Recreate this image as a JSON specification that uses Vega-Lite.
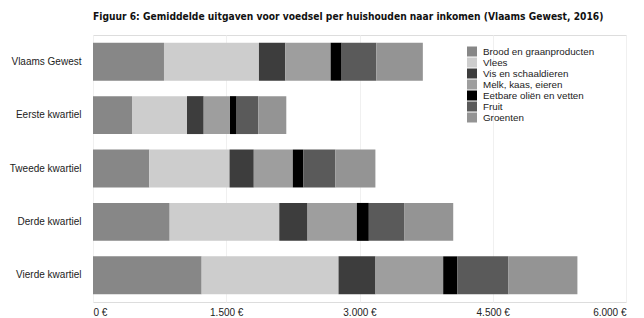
{
  "$schema": "https://vega.github.io/schema/vega-lite/v6.json",
  "width": 533,
  "height": 267,
  "autosize": {"type": "none"},
  "padding": {"left": 93, "top": 35, "right": 18, "bottom": 16},
  "background": "white",
  "title": {
    "text": "Figuur 6: Gemiddelde uitgaven voor voedsel per huishouden naar inkomen (Vlaams Gewest, 2016)",
    "font": "'DejaVu Sans Condensed', 'Liberation Sans'",
    "fontSize": 10.2,
    "fontWeight": "bold",
    "color": "#111111",
    "anchor": "start",
    "frame": "group",
    "dx": 0,
    "offset": 13
  },
  "data": {
    "values": [
      {"groep": "Vlaams Gewest", "categorie": "Brood en graanproducten", "k": 1, "waarde": 799},
      {"groep": "Vlaams Gewest", "categorie": "Vlees", "k": 2, "waarde": 1069},
      {"groep": "Vlaams Gewest", "categorie": "Vis en schaaldieren", "k": 3, "waarde": 297},
      {"groep": "Vlaams Gewest", "categorie": "Melk, kaas, eieren", "k": 4, "waarde": 510},
      {"groep": "Vlaams Gewest", "categorie": "Eetbare oliën en vetten", "k": 5, "waarde": 124},
      {"groep": "Vlaams Gewest", "categorie": "Fruit", "k": 6, "waarde": 390},
      {"groep": "Vlaams Gewest", "categorie": "Groenten", "k": 7, "waarde": 524},
      {"groep": "Eerste kwartiel", "categorie": "Brood en graanproducten", "k": 1, "waarde": 439},
      {"groep": "Eerste kwartiel", "categorie": "Vlees", "k": 2, "waarde": 619},
      {"groep": "Eerste kwartiel", "categorie": "Vis en schaaldieren", "k": 3, "waarde": 188},
      {"groep": "Eerste kwartiel", "categorie": "Melk, kaas, eieren", "k": 4, "waarde": 296},
      {"groep": "Eerste kwartiel", "categorie": "Eetbare oliën en vetten", "k": 5, "waarde": 75},
      {"groep": "Eerste kwartiel", "categorie": "Fruit", "k": 6, "waarde": 244},
      {"groep": "Eerste kwartiel", "categorie": "Groenten", "k": 7, "waarde": 315},
      {"groep": "Tweede kwartiel", "categorie": "Brood en graanproducten", "k": 1, "waarde": 634},
      {"groep": "Tweede kwartiel", "categorie": "Vlees", "k": 2, "waarde": 903},
      {"groep": "Tweede kwartiel", "categorie": "Vis en schaaldieren", "k": 3, "waarde": 273},
      {"groep": "Tweede kwartiel", "categorie": "Melk, kaas, eieren", "k": 4, "waarde": 439},
      {"groep": "Tweede kwartiel", "categorie": "Eetbare oliën en vetten", "k": 5, "waarde": 120},
      {"groep": "Tweede kwartiel", "categorie": "Fruit", "k": 6, "waarde": 360},
      {"groep": "Tweede kwartiel", "categorie": "Groenten", "k": 7, "waarde": 450},
      {"groep": "Derde kwartiel", "categorie": "Brood en graanproducten", "k": 1, "waarde": 863},
      {"groep": "Derde kwartiel", "categorie": "Vlees", "k": 2, "waarde": 1234},
      {"groep": "Derde kwartiel", "categorie": "Vis en schaaldieren", "k": 3, "waarde": 318},
      {"groep": "Derde kwartiel", "categorie": "Melk, kaas, eieren", "k": 4, "waarde": 555},
      {"groep": "Derde kwartiel", "categorie": "Eetbare oliën en vetten", "k": 5, "waarde": 135},
      {"groep": "Derde kwartiel", "categorie": "Fruit", "k": 6, "waarde": 402},
      {"groep": "Derde kwartiel", "categorie": "Groenten", "k": 7, "waarde": 548},
      {"groep": "Vierde kwartiel", "categorie": "Brood en graanproducten", "k": 1, "waarde": 1223},
      {"groep": "Vierde kwartiel", "categorie": "Vlees", "k": 2, "waarde": 1541},
      {"groep": "Vierde kwartiel", "categorie": "Vis en schaaldieren", "k": 3, "waarde": 416},
      {"groep": "Vierde kwartiel", "categorie": "Melk, kaas, eieren", "k": 4, "waarde": 762},
      {"groep": "Vierde kwartiel", "categorie": "Eetbare oliën en vetten", "k": 5, "waarde": 158},
      {"groep": "Vierde kwartiel", "categorie": "Fruit", "k": 6, "waarde": 577},
      {"groep": "Vierde kwartiel", "categorie": "Groenten", "k": 7, "waarde": 776}
    ]
  },
  "mark": {"type": "bar"},
  "encoding": {
    "y": {
      "field": "groep",
      "type": "nominal",
      "sort": ["Vlaams Gewest", "Eerste kwartiel", "Tweede kwartiel", "Derde kwartiel", "Vierde kwartiel"],
      "scale": {"paddingInner": 0.29, "paddingOuter": 0.145},
      "axis": {
        "title": null,
        "domain": false,
        "ticks": false,
        "grid": false,
        "labelPadding": 12,
        "labelFont": "Liberation Sans",
        "labelFontSize": 10,
        "labelColor": "#222222"
      }
    },
    "x": {
      "field": "waarde",
      "type": "quantitative",
      "stack": "zero",
      "scale": {"domain": [0, 6000], "nice": false},
      "axis": {
        "title": null,
        "values": [0, 1500, 3000, 4500, 6000],
        "domain": false,
        "ticks": false,
        "grid": true,
        "gridColor": "#f0f0f0",
        "gridWidth": 1,
        "labelPadding": 5,
        "labelFont": "Liberation Sans",
        "labelFontSize": 10,
        "labelColor": "#222222",
        "labelExpr": "replace(format(datum.value, ','), ',', '.') + ' €'"
      }
    },
    "color": {
      "field": "categorie",
      "type": "nominal",
      "scale": {
        "domain": ["Brood en graanproducten", "Vlees", "Vis en schaaldieren", "Melk, kaas, eieren", "Eetbare oliën en vetten", "Fruit", "Groenten"],
        "range": ["#878787", "#cdcdcd", "#3d3d3d", "#9e9e9e", "#000000", "#5a5a5a", "#949494"]
      },
      "legend": {
        "title": null,
        "orient": "none",
        "legendX": 374,
        "legendY": 11.5,
        "symbolType": "square",
        "symbolSize": 100,
        "symbolStrokeWidth": 0,
        "labelFont": "Liberation Sans",
        "labelFontSize": 9.8,
        "labelColor": "#222222",
        "labelOffset": 6,
        "rowPadding": 1
      }
    },
    "order": {"field": "k", "type": "quantitative"}
  }
}
